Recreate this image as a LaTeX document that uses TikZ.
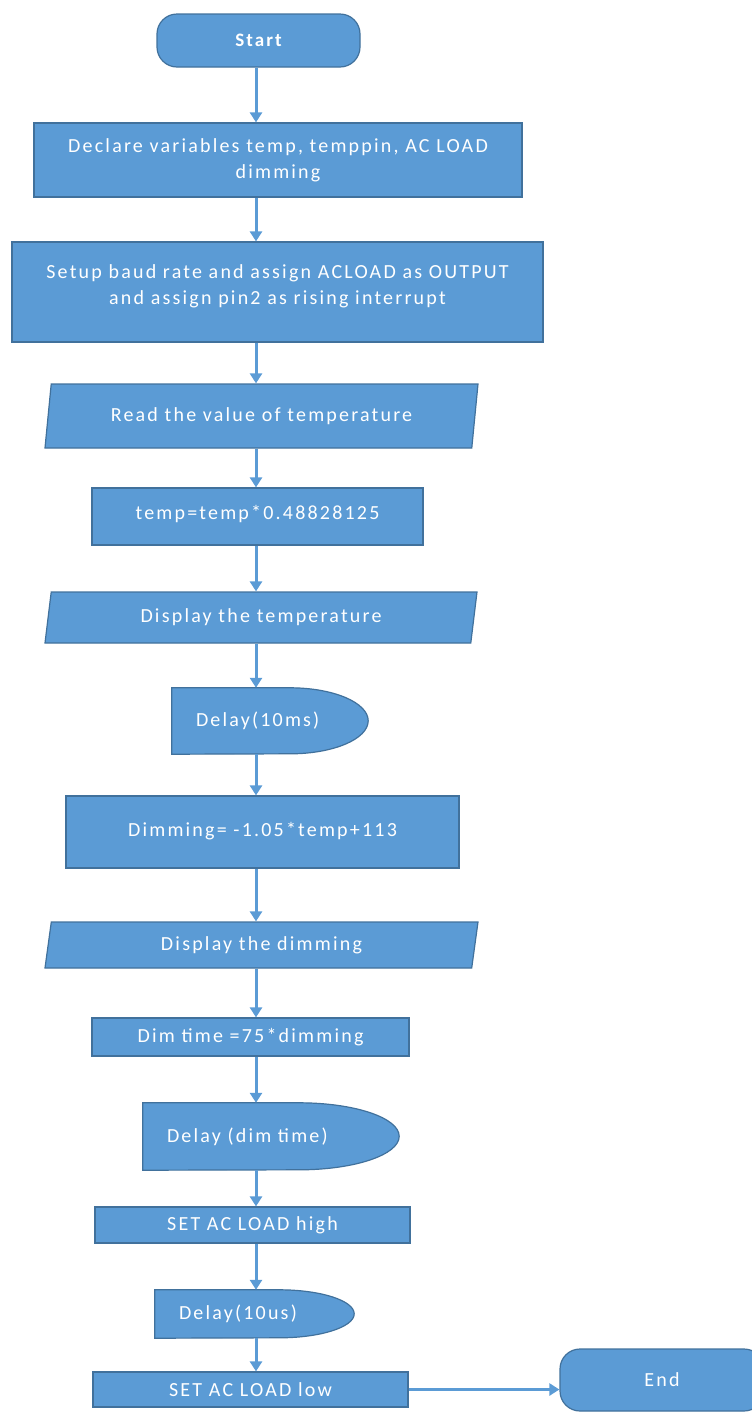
\documentclass[tikz,border=0pt]{standalone}
\usepackage{fontspec}
\setmainfont{Carlito}[LetterSpace=11]
\usetikzlibrary{shapes.geometric,arrows.meta,backgrounds}
\definecolor{flowfill}{HTML}{5B9BD5}
\definecolor{flowline}{HTML}{41719C}

\begin{document}
\begin{tikzpicture}[x=1pt,y=-1pt,>={Triangle[width=12pt,length=10pt]},
        every node/.style={text=white,font=\fontsize{20}{26}\selectfont},
        proc/.style={rectangle,draw=flowline,fill=flowfill,line width=1.2pt,align=center},
        term/.style={proc,rounded corners=20pt},
        io/.style={trapezium,trapezium left angle=70,trapezium right angle=110,trapezium stretches body,
                   draw=flowline,fill=flowfill,line width=1.2pt,inner sep=0pt},
        delay/.style={rectangle,align=left,inner xsep=24pt},
        flow/.style={->,draw=flowfill,line width=3pt}]

    \useasboundingbox (0,0) rectangle (752,1414);

    % Terminals

    \node [term,minimum width=203pt,minimum height=53pt,font=\fontsize{19}{26}\selectfont\bfseries] (start) at (258.5,40.5) {Start};
    \node [term,minimum width=204pt,minimum height=62pt] (endn) at (662,1380) {End};

    % Steps

    \node [proc,minimum width=488pt,minimum height=74pt] (decl) at (278,160) {Declare variables temp, temppin, AC LOAD\\dimming};
    \node [proc,minimum width=531pt,minimum height=100pt,text depth=14pt] (setup) at (277.5,292) {Setup baud rate and assign ACLOAD as OUTPUT\\and assign pin2 as rising interrupt};
    \node [io,minimum width=433pt,minimum height=64pt] (read) at (261.5,416) {Read the value of temperature};
    \node [proc,minimum width=331pt,minimum height=57pt,text depth=8pt] (tcalc) at (257.5,516.5) {temp=temp*0.48828125};
    \node [io,minimum width=432pt,minimum height=51pt] (disptemp) at (261,617.5) {Display the temperature};
    \node [delay,text width=148pt,minimum height=66pt] (dlyA) at (270,721) {Delay(10ms)};
    \node [proc,minimum width=393pt,minimum height=72pt,text depth=6pt] (dimcalc) at (262.5,832) {Dimming= -1.05*temp+113};
    \node [io,minimum width=433pt,minimum height=46pt] (dispdim) at (261.5,945) {Display the dimming};
    \node [proc,minimum width=317pt,minimum height=38pt] (dimtime) at (250.5,1037) {Dim time =75*dimming};
    \node [delay,text width=208pt,minimum height=67pt] (dlyB) at (271,1136.5) {Delay (dim time)};
    \node [proc,minimum width=315pt,minimum height=36pt] (sethigh) at (252.5,1225) {SET AC LOAD high};
    \node [delay,text width=151pt,minimum height=48pt] (dlyC) at (254.5,1314) {Delay(10us)};
    \node [proc,minimum width=315pt,minimum height=35pt] (setlow) at (250.5,1389.5) {SET AC LOAD low};

    % Delay outlines

    \begin{scope}[on background layer]
        \foreach \d/\rx/\ry in {dlyA/78/33,dlyB/100/33.5,dlyC/75/24} {
            \filldraw [fill=flowfill,draw=flowline,line width=1.2pt]
                (\d.north west) -- ([xshift=-\rx pt]\d.north east)
                arc [start angle=90,end angle=-90,x radius=\rx pt,y radius=\ry pt]
                -- (\d.south west) -- cycle;
        }
    \end{scope}

    % Connectors

    \coordinate (spine) at (256,0);
    \foreach \a/\b in {start/decl,decl/setup,setup/read,read/tcalc,tcalc/disptemp,disptemp/dlyA,dlyA/dimcalc,
                       dimcalc/dispdim,dispdim/dimtime,dimtime/dlyB,dlyB/sethigh,sethigh/dlyC,dlyC/setlow}
        \draw [flow] (\a.south -| spine) -- (\b.north -| spine);
    \draw [flow] (setlow.east) -- (setlow.east -| endn.west);

\end{tikzpicture}
\end{document}
